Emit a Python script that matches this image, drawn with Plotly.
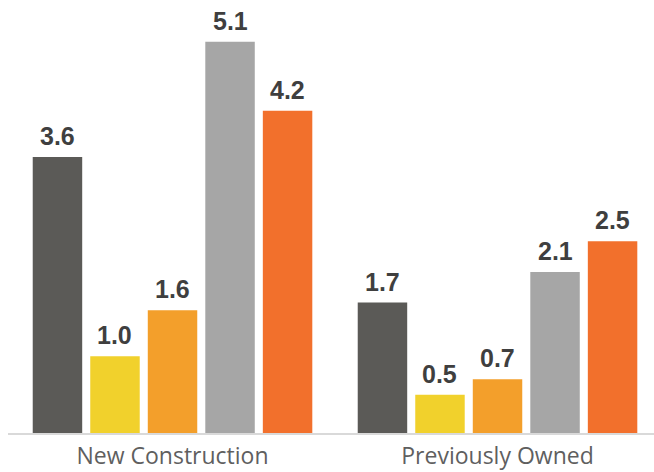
import plotly.graph_objects as go

categories = ["New Construction", "Previously Owned"]
series_names = ["Series 1", "Series 2", "Series 3", "Series 4", "Series 5"]
series_values = [
    [3.6, 1.7],
    [1.0, 0.5],
    [1.6, 0.7],
    [5.1, 2.1],
    [4.2, 2.5],
]
series_colors = ["#5b5a57", "#f1d12c", "#f39f2b", "#a6a6a6", "#f2702c"]

BAR_GAP = 0.115
n_series = len(series_names)
slot = (1 - BAR_GAP) / n_series

fig = go.Figure()
for name, vals, color in zip(series_names, series_values, series_colors):
    fig.add_trace(go.Bar(
        x=categories,
        y=vals,
        name=name,
        marker=dict(color=color, line=dict(width=0)),
    ))

# value labels above each bar
for i, vals in enumerate(series_values):
    offset = (i - (n_series - 1) / 2) * slot
    for j, v in enumerate(vals):
        fig.add_annotation(
            x=j + offset, y=v, xref="x", yref="y",
            text=f"{v:.1f}", showarrow=False,
            yanchor="bottom", yshift=5,
            font=dict(family="Liberation Sans", size=25, color="#3f3f3f", weight="bold"),
        )

fig.update_layout(
    width=654,
    height=472,
    margin=dict(l=8, r=0, t=0, b=39, autoexpand=False),
    paper_bgcolor="white",
    plot_bgcolor="white",
    barmode="group",
    bargap=BAR_GAP,
    bargroupgap=0.14,
    showlegend=False,
    xaxis=dict(
        range=[-0.5062, 1.4815],
        automargin=False,
        showline=True,
        linecolor="#d9d9d9",
        linewidth=2,
        showgrid=False,
        ticks="",
        ticklabelstandoff=1,
        tickfont=dict(family="Open Sans", size=23, color="#5f5f5f"),
        fixedrange=True,
    ),
    yaxis=dict(
        range=[0, 433 / 76.7],
        visible=False,
        showgrid=False,
        zeroline=False,
        fixedrange=True,
    ),
)

fig.write_html("out.html")
